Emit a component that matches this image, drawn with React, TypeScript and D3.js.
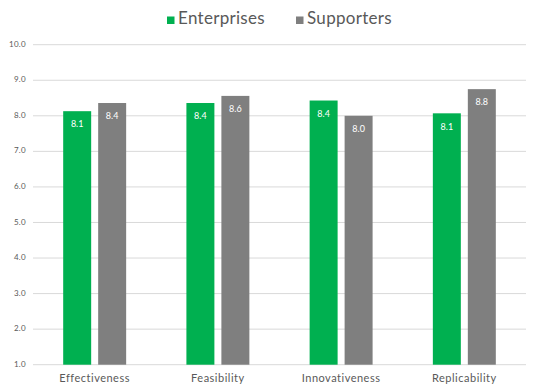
import React, { useEffect, useRef } from 'react';
import * as d3 from 'd3';

// chart data
const categories = ['Effectiveness', 'Feasibility', 'Innovativeness', 'Replicability'];
const seriesNames = ['Enterprises', 'Supporters'];
const enterprises = [8.13, 8.36, 8.43, 8.07];
const supporters = [8.36, 8.56, 8.0, 8.75];
const yTicks = [1, 2, 3, 4, 5, 6, 7, 8, 9, 10];

const colors = ['#00B050', '#7F7F7F'];
const FONT = 'Lato, "Open Sans", sans-serif';

function App() {
  const svgRef = useRef<SVGSVGElement | null>(null);

  useEffect(() => {
    if (!svgRef.current) return;
    const width = 537;
    const height = 391;
    const svg = d3.select(svgRef.current);
    svg.selectAll('*').remove();
    svg.attr('width', width).attr('height', height);

    const left = 33;
    const right = 526;
    const top = 44.7;
    const bottom = 364.7;

    const y = d3.scaleLinear().domain([1, 10]).range([bottom, top]);
    const x0 = d3.scaleBand<string>().domain(categories).range([left, right]).paddingInner(0.489).paddingOuter(0.245);
    const x1 = d3.scaleBand<string>().domain(seriesNames).range([0, x0.bandwidth()]).paddingInner(0.2);

    // gridlines + y tick labels
    const grid = svg.append('g');
    yTicks.forEach(t => {
      grid.append('line')
        .attr('x1', left).attr('x2', right)
        .attr('y1', y(t)).attr('y2', y(t))
        .attr('stroke', '#D9D9D9').attr('stroke-width', 1);
      grid.append('text')
        .attr('x', left - 7).attr('y', y(t))
        .attr('text-anchor', 'end').attr('dominant-baseline', 'middle')
        .attr('font-family', FONT).attr('font-size', 8)
        .attr('letter-spacing', 0.3)
        .attr('fill', '#595959')
        .text(t.toFixed(1));
    });

    const series = [enterprises, supporters];
    const bars = svg.append('g');
    categories.forEach((c, i) => {
      series.forEach((vals, s) => {
        const bx = (x0(c) ?? 0) + (x1(seriesNames[s]) ?? 0);
        const bw = x1.bandwidth();
        bars.append('rect')
          .attr('x', bx).attr('y', y(vals[i]))
          .attr('width', bw).attr('height', y(1) - y(vals[i]))
          .attr('fill', colors[s]);
        bars.append('text')
          .attr('x', bx + bw / 2).attr('y', y(vals[i]) + 14)
          .attr('text-anchor', 'middle').attr('dominant-baseline', 'middle')
          .attr('font-family', FONT).attr('font-size', 9)
          .attr('fill', '#fff')
          .text(vals[i].toFixed(1));
      });
      svg.append('text')
        .attr('x', (x0(c) ?? 0) + x0.bandwidth() / 2).attr('y', 379)
        .attr('text-anchor', 'middle').attr('dominant-baseline', 'middle')
        .attr('font-family', FONT).attr('font-size', 11)
        .attr('letter-spacing', 0.5)
        .attr('fill', '#595959')
        .text(c);
    });

    // legend
    const legend = svg.append('g');
    const legendX = [167, 296];
    seriesNames.forEach((n, s) => {
      legend.append('rect')
        .attr('x', legendX[s]).attr('y', 16.5)
        .attr('width', 7.5).attr('height', 7.5)
        .attr('fill', colors[s]);
      legend.append('text')
        .attr('x', legendX[s] + 11).attr('y', 20)
        .attr('dominant-baseline', 'middle')
        .attr('font-family', FONT).attr('font-size', 17)
        .attr('letter-spacing', 0.3)
        .attr('fill', '#595959')
        .text(n);
    });
  }, []);

  return (
    <div>
      <svg ref={svgRef} style={{ position: 'absolute', left: 0, top: 0 }}></svg>
    </div>
  );
}

export default App;
